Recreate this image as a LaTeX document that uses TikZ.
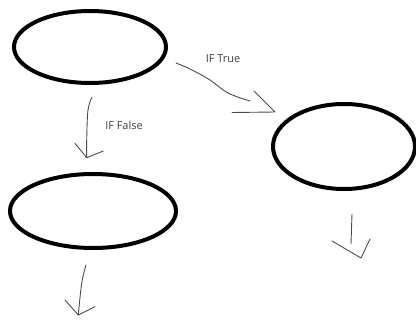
\documentclass[tikz,border=0pt]{standalone}
\usepackage{fontspec}
\setsansfont{Open Sans}
\usetikzlibrary{shapes.geometric,calc}

\tikzset{
  blob/.style={draw, ellipse, line width=4bp, inner sep=0pt},
  scrawl/.style={draw=black!70, line width=0.9bp, line cap=round, line join=round},
  lbl/.style={font=\sffamily\fontsize{11}{13}\selectfont, text=black!75, inner sep=0pt}
}

\begin{document}
\begin{tikzpicture}[x=1bp, y=-1bp]
  \useasboundingbox (0,0) rectangle (416,322);

  % the three states
  \node[blob, minimum width=152bp, minimum height=72bp] (cond) at (90,47) {};
  \node[blob, minimum width=142bp, minimum height=85bp] (onTrue) at (344,146.5) {};
  \node[blob, minimum width=166bp, minimum height=74bp] (onFalse) at (93,211) {};

  \node[lbl] (lblTrue) at (223,59) {IF True};
  \node[lbl] (lblFalse) at (124,125.5) {IF False};

  % hand drawn tips
  \coordinate (tipT) at (275,112);
  \coordinate (tipF) at (86.7,157.7);
  \coordinate (tipA) at (361,258);
  \coordinate (tipB) at (78.3,315);

  % true branch
  \draw[scrawl] plot[smooth, tension=0.6] coordinates
    {([shift={(8,16)}]cond.east) (190,69) (210,80) (228,93) (250,101)};
  \draw[scrawl] (254,91) -- (tipT) -- (232,112.5);

  % false branch
  \draw[scrawl] plot[smooth, tension=0.6] coordinates
    {([shift={(2,12)}]cond.south) (88,110) (86.7,140) (tipF)};
  \draw[scrawl] (75,143.3) -- (tipF) -- (103.3,151);

  % out of the two lower states
  \draw[scrawl] ([shift={(8,23)}]onTrue.south) -- (351,244);
  \draw[scrawl] (332,241) -- (tipA) -- (370,239);

  \draw[scrawl] plot[smooth, tension=0.6] coordinates
    {([shift={(-7,15)}]onFalse.south) (81.7,283.3) (tipB)};
  \draw[scrawl] (65,300) -- (tipB) -- (95,306.7);
\end{tikzpicture}
\end{document}
